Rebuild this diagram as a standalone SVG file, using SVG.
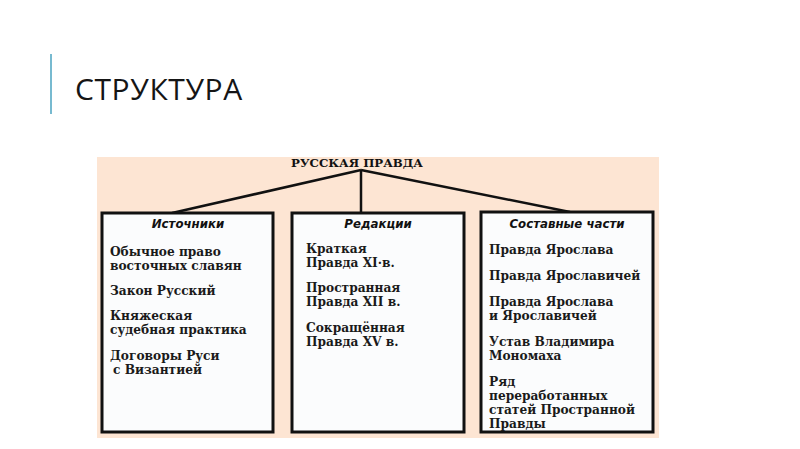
<svg xmlns="http://www.w3.org/2000/svg" width="800" height="449" viewBox="0 0 800 449">
<style>
.title{font-family:"Open Sans","Liberation Sans",sans-serif;font-size:30px;font-weight:500;letter-spacing:0.6px;fill:#151515}
.hdr{font-family:"DejaVu Serif",serif;font-weight:bold;font-size:11.8px;fill:#111}
.sub{font-family:"DejaVu Sans","Liberation Sans",sans-serif;font-weight:bold;font-style:italic;font-size:11.8px;fill:#111;text-anchor:middle}
.item{font-family:"DejaVu Serif",serif;font-weight:bold;font-size:12.2px;fill:#1a1a1a}
.box{fill:#fbfcfd;stroke:#111;stroke-width:3}
.conn{stroke:#111;stroke-width:2.5;fill:none}
</style>
<rect width="800" height="449" fill="#ffffff"/>
<line x1="51" y1="54" x2="51" y2="114" stroke="#4aa3c0" stroke-width="1.5"/>
<text class="title" x="75" y="100">СТРУКТУРА</text>
<rect x="97" y="157" width="562" height="281" fill="#fde5d3"/>
<g id="root"><text class="hdr" x="357" y="167" text-anchor="middle">РУССКАЯ ПРАВДА</text></g>
<g id="connectors">
<line class="conn" x1="361" y1="170" x2="172" y2="213"/>
<line class="conn" x1="361" y1="170" x2="361" y2="213"/>
<line class="conn" x1="361" y1="170" x2="570" y2="212"/>
</g>
<g id="sources">
<rect class="box" x="102" y="213" width="171" height="219"/>
<text class="sub" x="188" y="228">Источники</text>
<text class="item" x="110" y="256">Обычное право</text>
<text class="item" x="110" y="270">восточных славян</text>
<text class="item" x="110" y="295">Закон Русский</text>
<text class="item" x="110" y="320">Княжеская</text>
<text class="item" x="110" y="334">судебная практика</text>
<text class="item" x="110" y="360">Договоры Руси</text>
<text class="item" x="113" y="374">с Византией</text>
</g>
<g id="editions">
<rect class="box" x="292" y="213" width="172" height="219"/>
<text class="sub" x="378" y="228">Редакции</text>
<text class="item" x="306" y="253">Краткая</text>
<text class="item" x="306" y="267">Правда XI·в.</text>
<text class="item" x="306" y="292">Пространная</text>
<text class="item" x="306" y="306">Правда XII в.</text>
<text class="item" x="306" y="332">Сокращённая</text>
<text class="item" x="306" y="346">Правда XV в.</text>
</g>
<g id="parts">
<rect class="box" x="481" y="212" width="172" height="220"/>
<text class="sub" x="567" y="228">Составные части</text>
<text class="item" x="489" y="254">Правда Ярослава</text>
<text class="item" x="489" y="280">Правда Ярославичей</text>
<text class="item" x="489" y="306">Правда Ярослава</text>
<text class="item" x="489" y="320">и Ярославичей</text>
<text class="item" x="489" y="346">Устав Владимира</text>
<text class="item" x="489" y="360">Мономаха</text>
<text class="item" x="489" y="386">Ряд</text>
<text class="item" x="489" y="400">переработанных</text>
<text class="item" x="489" y="414">статей Пространной</text>
<text class="item" x="489" y="428">Правды</text>
</g>
</svg>
